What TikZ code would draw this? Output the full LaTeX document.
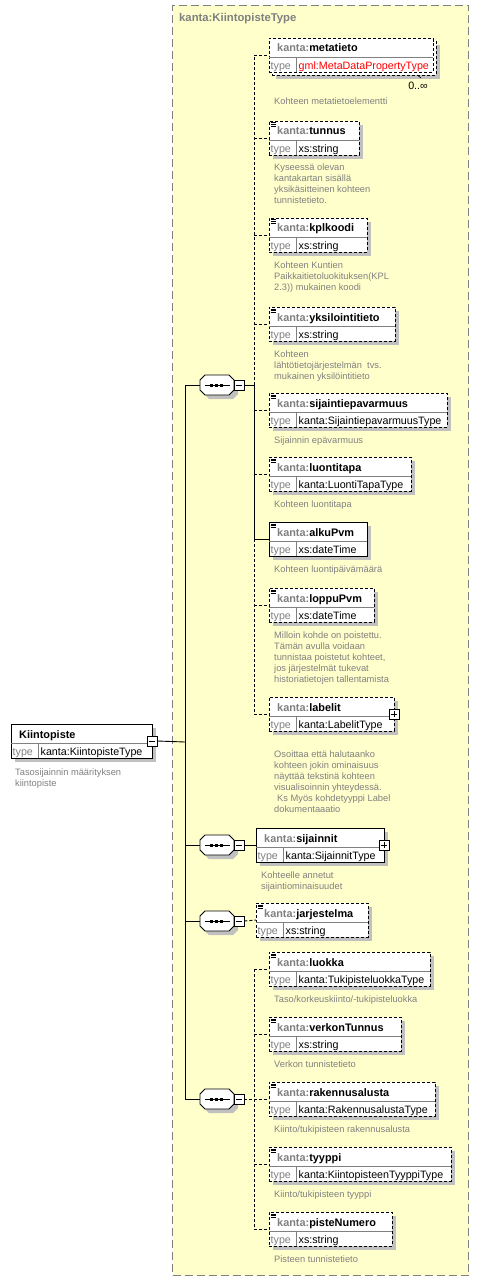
\documentclass[tikz,border=0pt]{standalone}
\usepackage{fontspec}
\setmainfont{Liberation Sans}
\usetikzlibrary{shadows}
\definecolor{yel}{HTML}{FFFFCC}
\definecolor{kgray}{HTML}{808080}
\definecolor{shadowgray}{HTML}{C0C0C0}
\definecolor{typered}{HTML}{FF0000}
\newcommand\hdrfont{\fontsize{10.9}{13}\selectfont\bfseries}
\newcommand\titlefont{\fontsize{11.3}{13}\selectfont\bfseries}
\newcommand\typefont{\fontsize{10.7}{12}\selectfont}
\newcommand\docfont{\fontsize{9.3}{11}\selectfont}
\newcommand\kk{\textcolor{kgray}{kanta:}}
\tikzset{
 conn/.style={line width=0.9pt, black},
 dconn/.style={conn, dash pattern=on 3pt off 2pt},
 elbox/.style={draw=black, fill=white, line width=0.9pt, inner sep=0pt, outer sep=0pt},
 shad/.style={drop shadow={shadow xshift=4pt, shadow yshift=-4pt, fill=shadowgray, opacity=1}},
 dashedbox/.style={dash pattern=on 3pt off 2pt},
 divline/.style={draw=kgray, line width=0.6pt},
 hdrtext/.style={anchor=base west, inner sep=0pt, font=\hdrfont},
 typelbl/.style={anchor=base west, inner sep=0pt, font=\typefont, text=kgray},
 typetext/.style={anchor=base west, inner sep=0pt, font=\typefont},
 doctext/.style={anchor=base west, inner sep=0pt, font=\docfont, text=kgray},
 pm/.style={draw=black, fill=white, minimum size=10pt, inner sep=0pt, line width=0.8pt},
 iconline/.style={line width=0.6pt, black},
}
\newcommand\elem[7]{%
 \node[elbox,#7,minimum width=#4pt,minimum height=34pt,anchor=north west] (#1) at (#2,#3) {};
 \draw[divline] ([yshift=-19pt]#1.north west) -- ([yshift=-19pt]#1.north east);
 \draw[divline] ([xshift=27pt,yshift=-19pt]#1.north west) -- ([xshift=27pt]#1.south west);
 \node[hdrtext] (#1-n) at ([xshift=8pt,yshift=-14pt]#1.north west) {#5};
 \node[typelbl] (#1-t) at ([xshift=1.5pt,yshift=-31.5pt]#1.north west) {type};
 \node[typetext] (#1-v) at ([xshift=29.5pt,yshift=-31.5pt]#1.north west) {#6};
}
\newcommand\docicon[1]{\draw[iconline] ([xshift=1.5pt,yshift=-1.8pt]#1.north west) -- ++(5pt,0pt) ([xshift=1.5pt,yshift=-3.5pt]#1.north west) -- ++(5pt,0pt) ([xshift=1.5pt,yshift=-5.2pt]#1.north west) -- ++(5pt,0pt);}
\newcommand\seqnode[2]{%
 \node[inner sep=0pt, minimum width=34pt, minimum height=20pt] (#1) at (#2) {};
 \begin{scope}[shift={(#1.center)}]
  \fill[shadowgray] (-8,-6) -- (16,-6) -- (21,-1) -- (21,9) -- (16,14) -- (-8,14) -- (-13,9) -- (-13,-1) -- cycle;
  \draw[fill=white, line width=0.9pt] (-12,-10) -- (12,-10) -- (17,-5) -- (17,5) -- (12,10) -- (-12,10) -- (-17,5) -- (-17,-5) -- cycle;
  \draw[line width=0.9pt] (-12,0) -- (13,0);
  \fill (-6.75,-1.5) rectangle ++(3,3);
  \fill (-1.75,-1.5) rectangle ++(3,3);
  \fill (3.25,-1.5) rectangle ++(3,3);
 \end{scope}
}
\newcommand\minusbox[2]{\node[pm] (#1) at (#2) {}; \draw[line width=0.8pt] ([xshift=2pt]#1.west) -- ([xshift=-2pt]#1.east);}
\newcommand\plusbox[2]{\minusbox{#1}{#2}\draw[line width=0.8pt] ([yshift=-2pt]#1.north) -- ([yshift=2pt]#1.south);}
\newcommand\docnode[3]{\node[doctext] (#1) at (#2) {\begin{tabular}[t]{@{}l@{}}#3\end{tabular}};}

\begin{document}
\begin{tikzpicture}[x=1pt,y=-1pt]
\useasboundingbox (0,0) rectangle (479,1281);
\fill[white] (0,0) rectangle (479,1281);
\node[draw=kgray, fill=yel, line width=1pt, dash pattern=on 8pt off 4pt, minimum width=296pt, minimum height=1270pt, anchor=north west, inner sep=0pt] (typebox) at (172,5) {};
\node[anchor=base west, inner sep=0pt, font=\titlefont, text=kgray] (typetitle) at (179,22) {kanta:KiintopisteType};

% stacked metatieto
\fill[shadowgray] (276,45) rectangle (440,79);
\node[elbox, dashedbox, minimum width=164pt, minimum height=34pt, anchor=north west] (e1b) at (272,41) {};
\elem{e1}{269}{38}{164}{\kk metatieto}{\textcolor{typered}{gml:MetaDataPropertyType}}{dashedbox}
\node[anchor=base east, inner sep=0pt, font=\typefont] (occ) at (428,90) {0..∞};
\draw[line width=0.6pt] (417,75) -- (421,78);

\elem{e2}{269}{121}{90}{\kk tunnus}{xs:string}{dashedbox,shad}\docicon{e2}
\elem{e3}{269}{218}{98}{\kk kplkoodi}{xs:string}{dashedbox,shad}\docicon{e3}
\elem{e4}{269}{307}{126}{\kk yksilointitieto}{xs:string}{dashedbox,shad}\docicon{e4}
\elem{e5}{269}{393}{178}{\kk sijaintiepavarmuus}{kanta:SijaintiepavarmuusType}{dashedbox,shad}\docicon{e5}
\elem{e6}{269}{457}{142}{\kk luontitapa}{kanta:LuontiTapaType}{dashedbox,shad}\docicon{e6}
\elem{e7}{269}{522}{98}{\kk alkuPvm}{xs:dateTime}{shad}\docicon{e7}
\elem{e8}{269}{588}{105}{\kk loppuPvm}{xs:dateTime}{dashedbox,shad}\docicon{e8}
\elem{e9}{269}{697}{125}{\kk labelit}{kanta:LabelitType}{dashedbox,shad}
\elem{e10}{256}{828}{128}{\kk sijainnit}{kanta:SijainnitType}{shad}
\elem{e11}{256}{903}{112}{\kk jarjestelma}{xs:string}{dashedbox,shad}\docicon{e11}
\elem{e12}{269}{952}{161}{\kk luokka}{kanta:TukipisteluokkaType}{dashedbox,shad}\docicon{e12}
\elem{e13}{269}{1017}{132}{\kk verkonTunnus}{xs:string}{dashedbox,shad}\docicon{e13}
\elem{e14}{269}{1082}{166}{\kk rakennusalusta}{kanta:RakennusalustaType}{dashedbox,shad}\docicon{e14}
\elem{e15}{269}{1147}{182}{\kk tyyppi}{kanta:KiintopisteenTyyppiType}{dashedbox,shad}\docicon{e15}
\elem{e16}{269}{1212}{123}{\kk pisteNumero}{xs:string}{dashedbox,shad}\docicon{e16}
\elem{kp}{11}{724}{141}{Kiintopiste}{kanta:KiintopisteType}{shad}

\plusbox{e9p}{e9.east}
\plusbox{e10p}{e10.east}
\minusbox{kpm}{kp.east}

\seqnode{s1}{217,385}\minusbox{s1m}{239,385}
\seqnode{s2}{217,845}\minusbox{s2m}{239,845}
\seqnode{s3}{217,921}\minusbox{s3m}{239,921}
\seqnode{s4}{217,1099}\minusbox{s4m}{239,1099}

% connectors
\coordinate (mbus) at (185,742);
\draw[conn] (kpm.east) -- (mbus);
\draw[conn] (s1.west -| mbus) -- (s4.west -| mbus);
\foreach \s in {s1,s2,s3,s4} \draw[conn] (\s.west -| mbus) -- (\s.west);
\coordinate (bus1) at (254,385);
\draw[conn] (s1m.east) -- (bus1);
\draw[dconn] (bus1) -- (e1.west -| bus1);
\draw[conn] (bus1) -- (e7.west -| bus1);
\draw[dconn] (e7.west -| bus1) -- (e9.west -| bus1);
\foreach \e in {e1,e2,e3,e4,e5,e6,e8,e9} \draw[dconn] (\e.west -| bus1) -- (\e.west);
\draw[conn] (e7.west -| bus1) -- (e7.west);
\draw[conn] (s2m.east) -- (e10.west);
\draw[dconn] (s3m.east) -- (e11.west);
\coordinate (bus4) at (254,1099);
\draw[dconn] (s4m.east) -- (bus4);
\draw[dconn] (e12.west -| bus4) -- (e16.west -| bus4);
\foreach \e in {e12,e13,e14,e15,e16} \draw[dconn] (\e.west -| bus4) -- (\e.west);

% documentation
\docnode{d1}{274,105}{Kohteen metatietoelementti}
\docnode{d2}{274,171}{Kyseessä olevan\\kantakartan sisällä\\yksikäsitteinen kohteen\\tunnistetieto.}
\docnode{d3}{274,268}{Kohteen Kuntien\\Paikkaitietoluokituksen(KPL\\2.3)) mukainen koodi}
\docnode{d4}{274,357}{Kohteen\\lähtötietojärjestelmän\ \ tvs.\\mukainen yksilöintitieto}
\docnode{d5}{274,443}{Sijainnin epävarmuus}
\docnode{d6}{274,507}{Kohteen luontitapa}
\docnode{d7}{274,572}{Kohteen luontipäivämäärä}
\docnode{d8}{274,638}{Milloin kohde on poistettu.\\Tämän avulla voidaan\\tunnistaa poistetut kohteet,\\jos järjestelmät tukevat\\historiatietojen tallentamista}
\docnode{d9}{274,757}{Osoittaa että halutaanko\\kohteen jokin ominaisuus\\näyttää tekstinä kohteen\\visualisoinnin yhteydessä.\\\hspace*{3pt}Ks Myös kohdetyyppi Label\\dokumentaaatio}
\docnode{d10}{261,878}{Kohteelle annetut\\sijaintiominaisuudet}
\docnode{d12}{274,1002}{Taso/korkeuskiinto/-tukipisteluokka}
\docnode{d13}{274,1067}{Verkon tunnistetieto}
\docnode{d14}{274,1132}{Kiinto/tukipisteen rakennusalusta}
\docnode{d15}{274,1197}{Kiinto/tukipisteen tyyppi}
\docnode{d16}{274,1262}{Pisteen tunnistetieto}
\docnode{dkp}{15,775}{Tasosijainnin määrityksen\\kiintopiste}
\end{tikzpicture}
\end{document}
